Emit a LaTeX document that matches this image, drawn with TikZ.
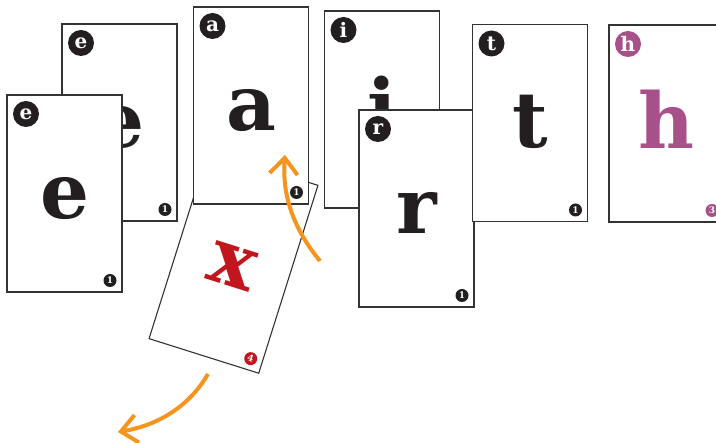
\documentclass[tikz,border=0pt]{standalone}
\usepackage{fontspec}
\setmainfont{DejaVu Serif}
\usetikzlibrary{arrows.meta}
\definecolor{ink}{HTML}{231F20}
\definecolor{pinkc}{HTML}{A8508A}
\definecolor{redc}{HTML}{C1161E}
\definecolor{orangec}{HTML}{F7941D}
\definecolor{edgec}{HTML}{333333}
\begin{document}
\begin{tikzpicture}[x=1pt,y=-1pt,
  cardbox/.style={draw=edgec, line width=1.1pt, fill=white, minimum width=115pt, minimum height=197pt, inner sep=0pt},
  bigletter/.style={font=\bfseries\fontsize{77}{77}\selectfont, inner sep=0pt, anchor=base},
  badge/.style={circle, inner sep=0pt, minimum size=26pt, text=white, font=\bfseries\fontsize{20}{20}\selectfont},
  numbadge/.style={circle, inner sep=0pt, minimum size=13pt, text=white, font=\bfseries\fontsize{9}{9}\selectfont},
  move/.style={draw=orangec, line width=4pt, -{Straight Barb[length=16pt,width=28pt]}},
  pics/card/.style n args={4}{code={
    \node[cardbox] (-box) at (0,0) {};
    \node[bigletter, text=#2] (-let) at (0,25) {#1};
    \if\relax\detokenize{#4}\relax\else
      \node[badge, fill=#2] (-badge) at (-38.5,-79.5) {#4};
    \fi
    \if\relax\detokenize{#3}\relax\else
      \node[numbadge, fill=#2] (-num) at (45.5,87) {#3};
    \fi
  }}
]
\useasboundingbox (0,0) rectangle (716,443);
\clip (0,0) rectangle (716,443);
\pic (ce1) at (119.5,122.5) {card={e}{ink}{1}{e}};
\pic (ce2) at (64.5,193.5) {card={e}{ink}{1}{e}};
\pic[rotate=-17.5, transform shape] (cx) at (233.5,262) {card={x}{redc}{4}{}};
\pic (ca) at (251,105.5) {card={a}{ink}{1}{a}};
\pic (ci) at (382,109.5) {card={i}{ink}{}{i}};
\pic (cr) at (416.5,208.5) {card={r}{ink}{1}{r}};
\pic (ct) at (530,123) {card={t}{ink}{1}{t}};
\pic (ch) at (666.5,123.5) {card={h}{pinkc}{3}{h}};
\coordinate (m1s) at (320,261);
\coordinate (m1e) at (285,155);
\draw[move] (m1s) .. controls (293,228) and (282,195) .. (m1e);
\coordinate (m2s) at (208,374);
\coordinate (m2e) at (118,432);
\draw[move] (m2s) .. controls (190,405) and (160,425) .. (m2e);
\end{tikzpicture}
\end{document}
